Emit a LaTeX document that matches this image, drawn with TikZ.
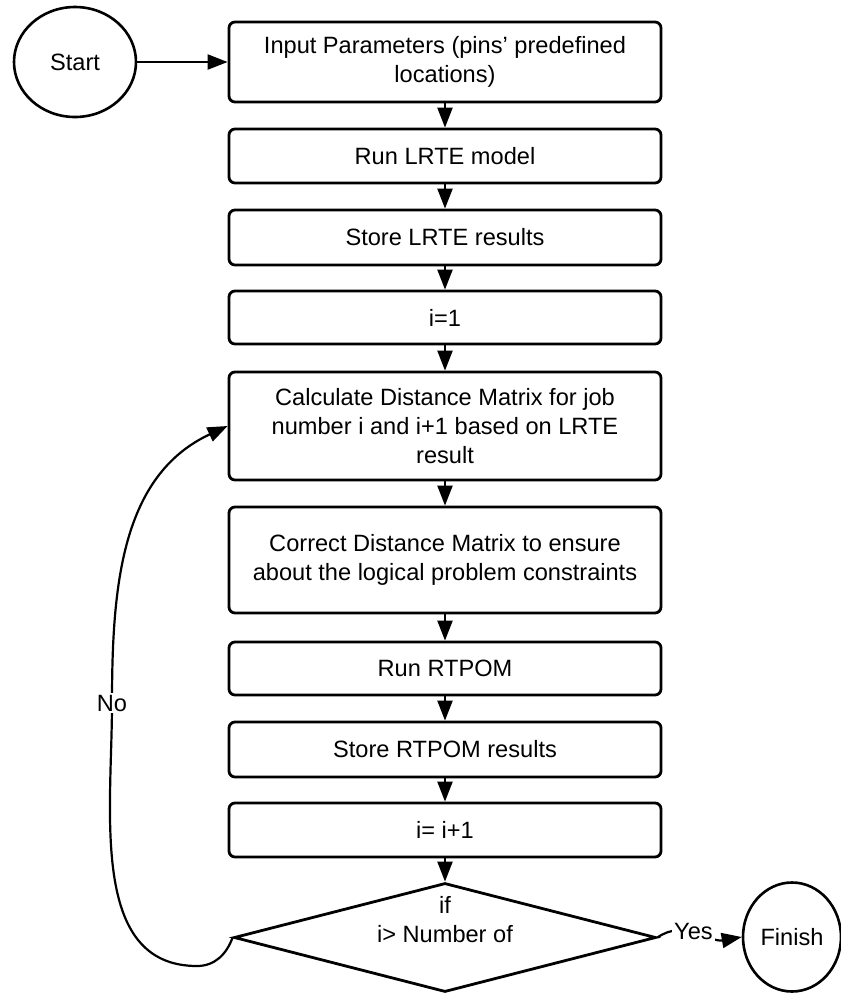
\documentclass[tikz,border=0pt]{standalone}
\usepackage{fontspec}
\setmainfont{Liberation Sans}
\usepackage{tikz}
\usetikzlibrary{arrows.meta,shapes.geometric}

\begin{document}
\begin{tikzpicture}[x=.5pt,y=-.5pt,font=\fontsize{11.8}{14.5}\selectfont,
  proc/.style={draw,line width=1.4pt,rounded corners=3pt,minimum width=216pt,align=center,inner sep=0pt},
  term/.style={draw,ellipse,line width=1.3pt,inner sep=0pt},
  flow/.style={line width=1.1pt,-{Triangle[length=10pt,width=7.5pt]}}]
\useasboundingbox (0,0) rectangle (841,993);
% terminals
\node[term,minimum width=61pt,minimum height=55pt] (start) at (75,62) {Start};
\node[term,minimum width=49pt,minimum height=54.5pt] (finish) at (792,937) {Finish};
% process column
\node[proc,minimum height=40pt] (input) at (445,62) {Input Parameters (pins' predefined\\locations)};
\node[proc,minimum height=27pt] (runlrte) at (445,156) {Run LRTE model};
\node[proc,minimum height=27.5pt] (storelrte) at (445,237.5) {Store LRTE results};
\node[proc,minimum height=26.5pt] (init) at (445,317.5) {i=1};
\node[proc,minimum height=54pt] (calc) at (445,426) {Calculate Distance Matrix for job\\number i and i+1 based on LRTE\\result};
\node[proc,minimum height=53pt] (correct) at (445,560) {Correct Distance Matrix to ensure\\about the logical problem constraints};
\node[proc,minimum height=26.5pt] (runrtpom) at (445,668.5) {Run RTPOM};
\node[proc,minimum height=27.5pt] (storertpom) at (445,749.5) {Store RTPOM results};
\node[proc,minimum height=27pt] (incr) at (445,830) {i= i+1};
\node[draw,diamond,aspect=3.9,line width=1.4pt,inner sep=0pt,minimum width=211pt,minimum height=54.5pt,
  label={[align=center,yshift=9pt]center:if\\i> Number of}] (check) at (445,937.5) {};
% connectors
\draw[flow] (start) -- (input);
\draw[flow] (input) -- (runlrte);
\draw[flow] (runlrte) -- (storelrte);
\draw[flow] (storelrte) -- (init);
\draw[flow] (init) -- (calc);
\draw[flow] (calc) -- (correct);
\draw[flow] (correct) -- (runrtpom);
\draw[flow] (runrtpom) -- (storertpom);
\draw[flow] (storertpom) -- (incr);
\draw[flow] (incr) -- (check);
\draw[flow] (check.east) to[out=35,in=190] node[pos=.45,fill=white,inner sep=1pt] {Yes} (finish.west);
\draw[flow] (check.west) to[out=-110,in=0] (197,966) to[out=180,in=-90] (112,703)
  node[fill=white,inner sep=1pt] {No} to[out=90,in=205] (calc.west);
\end{tikzpicture}
\end{document}
